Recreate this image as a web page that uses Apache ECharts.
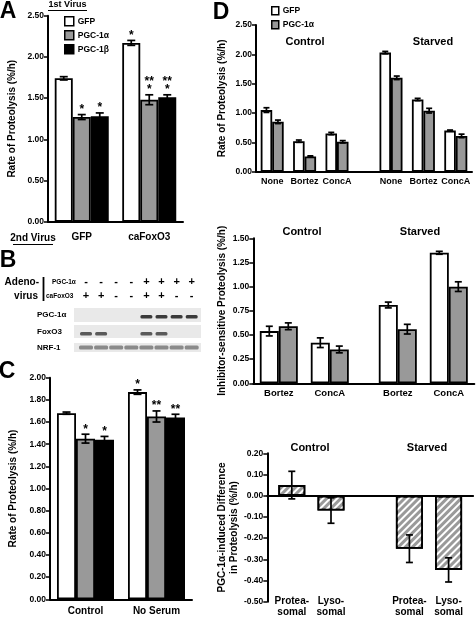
<!DOCTYPE html>
<html><head><meta charset="utf-8">
<script src="https://cdn.jsdelivr.net/npm/echarts@6/dist/echarts.min.js"></script>
<style>html,body{margin:0;padding:0;background:#fff}#c{width:476px;height:617px}</style>
</head><body><div id="c"></div>
<script>
// ---------- DATA ----------
// Panel A
const aCategories = ['GFP', 'caFoxO3'];
const aGFP = [1.74, 2.17];
const aGFPErr = [0.02, 0.03];
const aPGC1a = [1.27, 1.48];
const aPGC1aErr = [0.03, 0.06];
const aPGC1b = [1.28, 1.51];
const aPGC1bErr = [0.04, 0.03];
const aStarsGFP = ['', '*'];
const aStarsPGC1a = ['*', '**\n*'];
const aStarsPGC1b = ['*', '**\n*'];

// Panel B (blot lane design)
const bPGC1aLanes = ['-', '-', '-', '-', '+', '+', '+', '+'];
const bFoxO3Lanes = ['+', '+', '-', '-', '+', '+', '-', '-'];
const bRowLabels = ['PGC-1α', 'FoxO3', 'NRF-1'];

// Panel C
const cCategories = ['Control', 'No Serum'];
const cGFP = [1.68, 1.87];
const cGFPErr = [0.01, 0.02];
const cPGC1a = [1.45, 1.65];
const cPGC1aErr = [0.04, 0.05];
const cPGC1b = [1.44, 1.64];
const cPGC1bErr = [0.03, 0.03];
const cStarsGFP = ['', '*'];
const cStarsPGC1a = ['*', '**'];
const cStarsPGC1b = ['*', '**'];

// Panel D top
const dGroups = ['Control', 'Starved'];
const dTopCategories = ['None', 'Bortez', 'ConcA', 'None', 'Bortez', 'ConcA'];
const dTopGFP = [1.05, 0.52, 0.65, 2.03, 1.23, 0.70];
const dTopGFPErr = [0.04, 0.02, 0.02, 0.02, 0.02, 0.01];
const dTopPGC = [0.85, 0.26, 0.51, 1.60, 1.04, 0.61];
const dTopPGCErr = [0.03, 0.01, 0.02, 0.03, 0.04, 0.03];

// Panel D middle
const dMidCategories = ['Bortez', 'ConcA', 'Bortez', 'ConcA'];
const dMidGFP = [0.54, 0.42, 0.81, 1.35];
const dMidGFPErr = [0.05, 0.05, 0.03, 0.015];
const dMidPGC = [0.59, 0.35, 0.56, 1.00];
const dMidPGCErr = [0.035, 0.035, 0.05, 0.05];

// Panel D bottom
const dBotCategories = ['Protea-\nsomal', 'Lyso-\nsomal', 'Protea-\nsomal', 'Lyso-\nsomal'];
const dBotDiff = [0.05, -0.07, -0.25, -0.35];
const dBotDiffErr = [0.065, 0.06, 0.065, 0.057];

// ---------- LAYOUT / STYLE ----------
const FF = '"Liberation Sans", Arial, sans-serif';
const GREY = '#999999';
const dTopSlots = [1, 4, 7, 12, 15, 18], dTopN = 20;
const dMidSlots = [1, 4, 8, 11], dMidN = 13;
const dBotSlots = [2, 6, 14, 18], dBotN = 21;

function slotArr(vals, slots, n, fill) {
  const a = new Array(n).fill(fill);
  slots.forEach((s, i) => a[s] = vals[i]);
  return a;
}
function fmt(v) { return Math.abs(v) < 1e-9 ? '0.00' : v.toFixed(2); }

function grid(l, t, w, h) { return { left: l, top: t, width: w, height: h, containLabel: false, outerBoundsMode: 'none' }; }

function xCat(gi, data, extra) {
  return Object.assign({
    type: 'category', gridIndex: gi, data, position: 'bottom',
    axisLine: { show: true, lineStyle: { color: '#000', width: 2 } },
    axisTick: { show: false },
    axisLabel: { interval: 0, color: '#000', fontFamily: FF, fontWeight: 'bold', fontSize: 10, margin: 9 },
    splitLine: { show: false }
  }, extra || {});
}
function yVal(gi, min, max, interval, name, nameGap, extra) {
  return Object.assign({
    type: 'value', gridIndex: gi, min, max, interval,
    name, nameLocation: 'middle', nameGap, nameRotate: 90,
    nameTextStyle: { color: '#000', fontFamily: FF, fontWeight: 'bold', fontSize: 10, lineHeight: 12 },
    axisLine: { show: true, lineStyle: { color: '#000', width: 2 } },
    axisTick: { show: true, length: 4, inside: false, lineStyle: { color: '#000', width: 1.5 } },
    axisLabel: { color: '#000', fontFamily: FF, fontWeight: 'bold', fontSize: 8.5, margin: 4, formatter: fmt },
    splitLine: { show: false }
  }, extra || {});
}
function bar(name, gi, data, color, barWidth, extraStyle) {
  return {
    type: 'bar', name, xAxisIndex: gi, yAxisIndex: gi, data,
    barWidth, barGap: '0%',
    itemStyle: Object.assign({ color, borderColor: '#000', borderWidth: 1.8 }, extraStyle || {}),
    emphasis: { disabled: true }, z: 2
  };
}
function err(gi, xs, vals, errs, offset, capW, stars, starFont) {
  return {
    type: 'custom', xAxisIndex: gi, yAxisIndex: gi, z: 6, silent: true,
    data: vals.map((v, i) => [xs[i], v, errs[i]]),
    renderItem(params, api) {
      const x = api.value(0), v = api.value(1), e = api.value(2);
      const pt = api.coord([x, v + e]), pb = api.coord([x, v - e]);
      const cx = pt[0] + offset;
      const st = { stroke: '#000', lineWidth: 1.7 };
      const ch = [
        { type: 'line', shape: { x1: cx, y1: pt[1], x2: cx, y2: pb[1] }, style: st },
        { type: 'line', shape: { x1: cx - capW, y1: pt[1], x2: cx + capW, y2: pt[1] }, style: st },
        { type: 'line', shape: { x1: cx - capW, y1: pb[1], x2: cx + capW, y2: pb[1] }, style: st }
      ];
      const s = stars && stars[params.dataIndex];
      if (s) ch.push({ type: 'text', style: { text: s, x: cx, y: pt[1] - 1, align: 'center', verticalAlign: 'bottom', font: starFont || ('bold 12px ' + FF), fill: '#000', lineHeight: 8 } });
      return { type: 'group', children: ch };
    }
  };
}
function txt(t, x, y, size, align, extra) {
  return Object.assign({ type: 'text', x, y, silent: true, style: { text: t, font: 'bold ' + size + 'px ' + FF, fill: '#000', align: align || 'center', verticalAlign: 'middle', textAlign: align || 'center', textVerticalAlign: 'middle' } }, extra || {});
}
function ln(x1, y1, x2, y2, w, c) { return { type: 'line', silent: true, shape: { x1, y1, x2, y2 }, style: { stroke: c || '#000', lineWidth: w || 1 } }; }
function rc(x, y, w, h, c, r) { return { type: 'rect', silent: true, shape: { x, y, width: w, height: h, r: r || 0 }, style: { fill: c } }; }

// ---------- GRAPHICS (labels, blot) ----------
const g = [];
g.push(txt('A', 8, 12, 23), txt('B', 8, 261, 23), txt('C', 7, 372, 23), txt('D', 221, 13, 23));
g.push(txt('1st Virus', 67.5, 5, 9), ln(48, 10.5, 87, 10.5, 1));
g.push(txt('2nd Virus', 33, 238, 10), ln(13, 244.5, 53, 244.5, 1));
// Blot header
g.push(txt('Adeno-', 39, 282, 10, 'right'), txt('virus', 38, 296, 10, 'right'), ln(43.5, 277, 43.5, 301, 1.8));
g.push(txt('PGC-1α', 52, 282, 6.5, 'left'), txt('caFoxO3', 46, 296, 6.5, 'left'));
const laneX = i => 86 + i * 15.1;
bPGC1aLanes.forEach((s, i) => g.push(txt(s, laneX(i), 282, 11)));
bFoxO3Lanes.forEach((s, i) => g.push(txt(s, laneX(i), 296, 11)));
// Blot rows
const rowY = [[308, 14], [325, 13], [343, 9]];
bRowLabels.forEach((r, k) => g.push(txt(r, 37, rowY[k][0] + rowY[k][1] / 2, 8, 'left')));
rowY.forEach(([y, h]) => g.push(rc(74, y, 127, h, '#e9e9e9')));
bPGC1aLanes.forEach((s, i) => { if (s === '+') g.push(rc(laneX(i) - 6, 315, 12, 3.5, '#3a3a3a', 1.5)); });
bFoxO3Lanes.forEach((s, i) => { if (s === '+') g.push(rc(laneX(i) - 6, 332, 12, 3.5, '#5a5a5a', 1.5)); });
bPGC1aLanes.forEach((s, i) => g.push(rc(laneX(i) - 7, 345.5, 14, 4, '#8a8a8a', 1.5)));
// Group titles in D
g.push(txt(dGroups[0], 305, 42, 11), txt(dGroups[1], 433, 42, 11));
g.push(txt(dGroups[0], 302, 232, 11), txt(dGroups[1], 420, 232, 11));
g.push(txt(dGroups[0], 310, 448, 11), txt(dGroups[1], 427, 448, 11));

// ---------- OPTION ----------
const chart = echarts.init(document.getElementById('c'), null, { renderer: 'canvas' });
const option = {
  backgroundColor: '#fff',
  animation: false,
  textStyle: { fontFamily: FF },
  grid: [
    grid(48, 15.7, 135, 206),     // A
    grid(50, 377.7, 142, 221.6),  // C
    grid(256, 25, 216, 146.7),    // D top
    grid(253.3, 238.3, 221, 145), // D mid
    grid(267.3, 453.3, 205.8, 148.4) // D bottom
  ],
  legend: [
    { data: ['GFP', 'PGC-1α', 'PGC-1β'], orient: 'vertical', left: 59, top: 11, itemWidth: 9, itemHeight: 9, itemGap: 3.5, icon: 'rect', selectedMode: false,
      itemStyle: { borderColor: '#000', borderWidth: 1.5 }, textStyle: { color: '#000', fontFamily: FF, fontWeight: 'bold', fontSize: 8.5, padding: [0, 0, 0, -1] } },
    { data: ['GFP', 'PGC-1α'], orient: 'vertical', left: 266, top: 1, itemWidth: 7, itemHeight: 8, itemGap: 4.5, icon: 'rect', selectedMode: false,
      itemStyle: { borderColor: '#000', borderWidth: 1.5 }, textStyle: { color: '#000', fontFamily: FF, fontWeight: 'bold', fontSize: 8.5, padding: [0, 0, 0, -1] } }
  ],
  xAxis: [
    xCat(0, aCategories, { axisLabel: { interval: 0, color: '#000', fontFamily: FF, fontWeight: 'bold', fontSize: 10, margin: 11 } }),
    xCat(1, cCategories, { axisLabel: { interval: 0, color: '#000', fontFamily: FF, fontWeight: 'bold', fontSize: 10, margin: 7 } }),
    xCat(2, slotArr(dTopCategories, dTopSlots, dTopN, ''), { axisLabel: { interval: 0, color: '#000', fontFamily: FF, fontWeight: 'bold', fontSize: 9, margin: 5 } }),
    xCat(3, slotArr(dMidCategories, dMidSlots, dMidN, ''), { axisLabel: { interval: 0, color: '#000', fontFamily: FF, fontWeight: 'bold', fontSize: 9.5, margin: 5 } }),
    xCat(4, slotArr(dBotCategories, dBotSlots, dBotN, ''), { axisLabel: { show: false } }),
    xCat(4, slotArr(dBotCategories, dBotSlots, dBotN, ''), { position: 'bottom', axisLine: { show: false, onZero: false }, offset: -6,
      axisLabel: { interval: 0, color: '#000', fontFamily: FF, fontWeight: 'bold', fontSize: 10, margin: 0, lineHeight: 11 } })
  ],
  yAxis: [
    yVal(0, 0, 2.5, 0.5, 'Rate of Proteolysis (%/h)', 30),
    yVal(1, 0, 2.0, 0.2, 'Rate of Proteolysis (%/h)', 31),
    yVal(2, 0, 2.5, 0.5, 'Rate of Proteolysis (%/h)', 28),
    yVal(3, 0, 1.5, 0.25, 'Inhibitor-sensitive Proteolysis (%/h)', 25),
    yVal(4, -0.5, 0.2, 0.1, 'PGC-1α-induced Difference\nin Proteolysis (%/h)', 27)
  ],
  series: [
    // A
    bar('GFP', 0, aGFP, '#ffffff', 18),
    bar('PGC-1α', 0, aPGC1a, GREY, 18),
    bar('PGC-1β', 0, aPGC1b, '#000000', 18),
    err(0, [0, 1], aGFP, aGFPErr, -18, 4, aStarsGFP),
    err(0, [0, 1], aPGC1a, aPGC1aErr, 0, 4, aStarsPGC1a),
    err(0, [0, 1], aPGC1b, aPGC1bErr, 18, 4, aStarsPGC1b),
    // C
    bar('GFP', 1, cGFP, '#ffffff', 19),
    bar('PGC-1α', 1, cPGC1a, GREY, 19),
    bar('PGC-1β', 1, cPGC1b, '#000000', 19),
    err(1, [0, 1], cGFP, cGFPErr, -19, 4, cStarsGFP),
    err(1, [0, 1], cPGC1a, cPGC1aErr, 0, 4, cStarsPGC1a),
    err(1, [0, 1], cPGC1b, cPGC1bErr, 19, 4, cStarsPGC1b),
    // D top
    bar('GFP', 2, slotArr(dTopGFP, dTopSlots, dTopN, null), '#ffffff', 11.5),
    bar('PGC-1α', 2, slotArr(dTopPGC, dTopSlots, dTopN, null), GREY, 11.5),
    err(2, dTopSlots, dTopGFP, dTopGFPErr, -5.75, 3),
    err(2, dTopSlots, dTopPGC, dTopPGCErr, 5.75, 3),
    // D mid
    bar('GFP', 3, slotArr(dMidGFP, dMidSlots, dMidN, null), '#ffffff', 19),
    bar('PGC-1α', 3, slotArr(dMidPGC, dMidSlots, dMidN, null), GREY, 19),
    err(3, dMidSlots, dMidGFP, dMidGFPErr, -9.5, 3.5),
    err(3, dMidSlots, dMidPGC, dMidPGCErr, 9.5, 3.5),
    // D bottom
    bar('Difference', 4, slotArr(dBotDiff, dBotSlots, dBotN, null), '#9a9a9a', 27,
      { decal: { symbol: 'rect', symbolSize: 1, color: '#ffffff', dashArrayX: [1, 0], dashArrayY: [2, 2.5], rotation: -Math.PI / 4 } }),
    err(4, dBotSlots, dBotDiff, dBotDiffErr, 0, 3.5)
  ],
  graphic: g
};
chart.setOption(option);
</script>
</body></html>
